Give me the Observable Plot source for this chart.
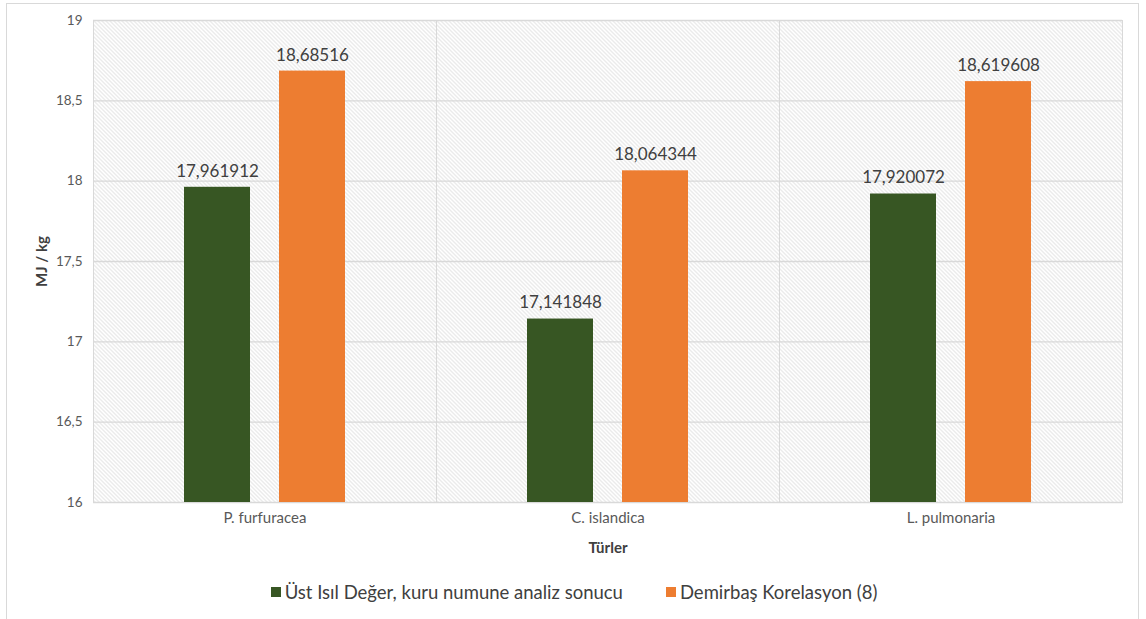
<!DOCTYPE html>
<html><head><meta charset="utf-8">
<script src="https://cdn.jsdelivr.net/npm/d3@7"></script>
<script src="https://cdn.jsdelivr.net/npm/@observablehq/plot@0.6"></script>
<style>
body{margin:0;background:#fff;font-family:Lato, sans-serif;}
#wrap{position:relative;width:1146px;height:619px;overflow:hidden;background:#fff;}
#chart{position:absolute;left:0;top:0;}
#border{position:absolute;left:6px;top:3px;width:1133px;height:660px;border:1px solid #d9d9d9;box-sizing:border-box;}
#legend{position:absolute;top:581px;left:0;width:1146px;display:flex;justify-content:center;gap:43px;font-size:18.5px;color:#404040;font-family:Lato, sans-serif;padding-left:2px;box-sizing:border-box;}
.item{display:flex;align-items:center;white-space:nowrap;}
.sw{width:10px;height:10px;margin-right:4px;display:inline-block;}
g[aria-label="y-axis label"] text, g[aria-label="fx-axis label"] text{font-weight:bold;fill:#404040;font-size:15px;}
</style></head><body>
<div id="wrap"><div id="chart"></div><div id="border"></div><div id="legend"></div></div>
<script>
const categories = ["P. furfuracea", "C. islandica", "L. pulmonaria"];
const seriesNames = ["Üst Isıl Değer, kuru numune analiz sonucu", "Demirbaş Korelasyon (8)"];
const measured = [17.961912, 17.141848, 17.920072];
const correlation = [18.68516, 18.064344, 18.619608];
const yTicks = [16, 16.5, 17, 17.5, 18, 18.5, 19];
const colors = ["#375623", "#ED7D31"];

const fmt = v => String(v).replace(".", ",");
const rows = [];
categories.forEach((c, i) => {
  rows.push({category: c, series: seriesNames[0], value: measured[i]});
  rows.push({category: c, series: seriesNames[1], value: correlation[i]});
});

const svg = Plot.plot({
  width: 1146,
  height: 572,
  marginLeft: 92,
  marginRight: 24,
  marginTop: 20,
  marginBottom: 70,
  style: {fontFamily: "Lato, sans-serif", fontSize: "13px", color: "#595959", background: "transparent"},
  fx: {domain: categories, padding: 0},
  x: {domain: seriesNames, paddingInner: 0.302, paddingOuter: 0.9375, axis: null},
  y: {domain: [16, 19]},
  color: {domain: seriesNames, range: colors},
  marks: [
    Plot.frame({fill: "url(#hatch)", stroke: "#d9d9d9"}),
    Plot.ruleY(yTicks, {stroke: "#d9d9d9", strokeWidth: 1.3}),
    Plot.barY(rows, {fx: "category", x: "series", y1: 16, y2: "value", fill: "series"}),
    Plot.text(rows, {fx: "category", x: "series", y: "value", text: d => fmt(d.value), dy: -16, fontSize: 17, fill: "#404040"}),
    Plot.axisY(yTicks, {tickFormat: fmt, tickSize: 0, tickPadding: 11, fontSize: 13.5, fill: "#595959", label: "MJ / kg", labelArrow: "none", labelAnchor: "center", labelOffset: 57}),
    Plot.axisFx({anchor: "bottom", tickSize: 0, tickPadding: 10, fontSize: 15, fill: "#595959", label: "Türler", labelArrow: "none", labelAnchor: "center", labelOffset: 50})
  ]
});

const defs = d3.create("svg:defs");
const pat = defs.append("pattern").attr("id", "hatch").attr("width", 4).attr("height", 4).attr("patternUnits", "userSpaceOnUse");
pat.append("rect").attr("width", 4).attr("height", 4).attr("fill", "#fff");
pat.append("path").attr("d", "M-1,-1L5,5M3,-1L5,1M-1,3L1,5").attr("stroke", "#d2d2d2").attr("stroke-width", 0.9);
svg.insertBefore(defs.node(), svg.firstChild);
document.getElementById("chart").appendChild(svg);

const legend = d3.select("#legend");
seriesNames.forEach((s, i) => {
  const it = legend.append("div").attr("class", "item");
  it.append("span").attr("class", "sw").style("background", colors[i]);
  it.append("span").text(s);
});
</script>
</body></html>
